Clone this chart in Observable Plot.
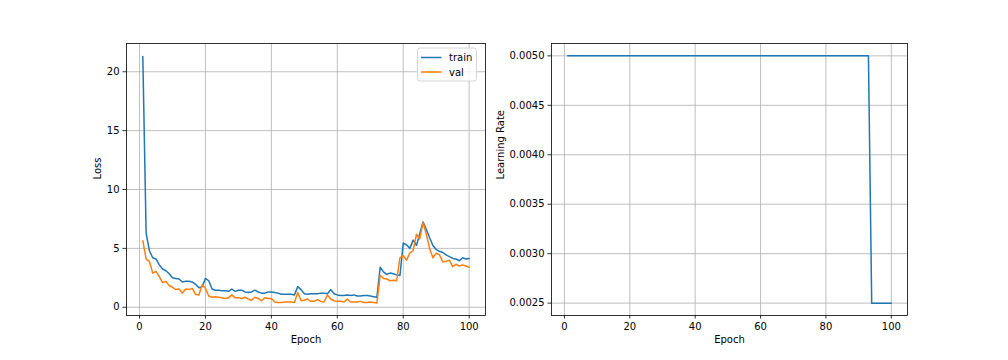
<!DOCTYPE html>
<html>
<head>
<meta charset="utf-8">
<script src="https://cdn.jsdelivr.net/npm/d3@7"></script>
<script src="https://cdn.jsdelivr.net/npm/@observablehq/plot@0.6"></script>
<style>
  html, body { margin: 0; padding: 0; background: white; }
  #wrap { position: relative; width: 1008px; height: 360px; background: white; }
  #wrap svg { position: absolute; top: 0; }
</style>
</head>
<body>
<div id="wrap"></div>
<script>
const epochs = d3.range(1, 101);
const trainLoss = [
  21.3, 6.3, 4.8, 4.2, 4.1, 3.6, 3.25, 3.1, 2.85, 2.5,
  2.45, 2.4, 2.15, 2.2, 2.2, 2.15, 1.95, 1.65, 1.75, 2.45,
  2.25, 1.55, 1.45, 1.45, 1.4, 1.4, 1.35, 1.55, 1.35, 1.45,
  1.45, 1.3, 1.25, 1.3, 1.45, 1.3, 1.2, 1.2, 1.3, 1.3,
  1.25, 1.2, 1.1, 1.1, 1.1, 1.1, 1.05, 1.75, 1.5, 1.15,
  1.1, 1.15, 1.15, 1.15, 1.2, 1.2, 1.15, 1.5, 1.15, 1.05,
  1.0, 1.0, 1.05, 1.0, 1.05, 0.95, 0.95, 1.0, 1.0, 0.95,
  0.9, 0.85, 3.4, 3.0, 2.8, 2.9, 2.85, 2.75, 2.7, 5.45,
  5.3, 5.0, 5.7, 5.25, 6.25, 7.25, 6.6, 5.9, 5.25, 4.9,
  4.75, 4.65, 4.45, 4.3, 4.15, 4.1, 3.95, 4.2, 4.1, 4.15
];
const valLoss = [
  5.65, 4.1, 3.9, 2.9, 3.05, 2.6, 2.1, 2.2, 1.85, 1.7,
  1.5, 1.55, 1.2, 1.55, 1.5, 1.6, 1.1, 1.05, 1.9, 1.6,
  0.95, 0.85, 0.9, 0.85, 0.8, 0.75, 0.8, 1.05, 0.8, 0.8,
  0.75, 0.85, 0.7, 0.6, 0.85, 0.75, 0.55, 0.8, 0.75, 0.75,
  0.45, 0.4, 0.4, 0.45, 0.45, 0.45, 0.4, 1.25, 0.55, 0.6,
  0.7, 0.5, 0.5, 0.65, 0.5, 0.45, 1.05, 0.7, 0.55, 0.5,
  0.5, 0.45, 0.7, 0.45, 0.45, 0.45, 0.5, 0.4, 0.4, 0.45,
  0.4, 0.35, 2.7, 2.45, 2.4, 2.25, 2.3, 2.25, 4.2, 4.4,
  4.0, 4.6, 4.8, 6.2, 5.8, 7.2, 6.2, 5.0, 4.2, 4.6,
  4.45, 3.85, 3.9, 4.0, 3.45, 3.65, 3.5, 3.6, 3.5, 3.4
];
const learningRate = [
  0.005, 0.005, 0.005, 0.005, 0.005, 0.005, 0.005, 0.005, 0.005, 0.005,
  0.005, 0.005, 0.005, 0.005, 0.005, 0.005, 0.005, 0.005, 0.005, 0.005,
  0.005, 0.005, 0.005, 0.005, 0.005, 0.005, 0.005, 0.005, 0.005, 0.005,
  0.005, 0.005, 0.005, 0.005, 0.005, 0.005, 0.005, 0.005, 0.005, 0.005,
  0.005, 0.005, 0.005, 0.005, 0.005, 0.005, 0.005, 0.005, 0.005, 0.005,
  0.005, 0.005, 0.005, 0.005, 0.005, 0.005, 0.005, 0.005, 0.005, 0.005,
  0.005, 0.005, 0.005, 0.005, 0.005, 0.005, 0.005, 0.005, 0.005, 0.005,
  0.005, 0.005, 0.005, 0.005, 0.005, 0.005, 0.005, 0.005, 0.005, 0.005,
  0.005, 0.005, 0.005, 0.005, 0.005, 0.005, 0.005, 0.005, 0.005, 0.005,
  0.005, 0.005, 0.005, 0.0025, 0.0025, 0.0025, 0.0025, 0.0025, 0.0025, 0.0025
];
const xTicks = [0, 20, 40, 60, 80, 100];
const lossTicks = [0, 5, 10, 15, 20];
const lrTicks = [0.0025, 0.0030, 0.0035, 0.0040, 0.0045, 0.0050];
const seriesNames = ["train", "val"];
const seriesColors = ["#1f77b4", "#ff7f0e"];

const rows = epochs.map((e, i) => ({epoch: e, train: trainLoss[i], val: valLoss[i], lr: learningRate[i]}));

const font = {fontFamily: "'DejaVu Sans', sans-serif", fontSize: "10px", color: "black", background: "white", overflow: "visible"};
const gridStyle = {stroke: "#b0b0b0", strokeOpacity: 1, strokeWidth: 0.8};
const xDomain = [-3.95, 104.95];

const left = Plot.plot({
  width: 490, height: 360,
  marginLeft: 126, marginRight: 5, marginTop: 43, marginBottom: 45,
  style: font,
  x: {domain: xDomain},
  y: {domain: [-0.7, 22.4]},
  marks: [
    Plot.gridX(xTicks, gridStyle),
    Plot.gridY(lossTicks, gridStyle),
    Plot.line(rows, {x: "epoch", y: "train", stroke: seriesColors[0], strokeWidth: 1.5}),
    Plot.line(rows, {x: "epoch", y: "val", stroke: seriesColors[1], strokeWidth: 1.5}),
    Plot.frame({stroke: "black", strokeWidth: 0.8}),
    Plot.axisX({ticks: xTicks, tickSize: 3.5, tickPadding: 3.5, strokeWidth: 0.8, label: null, fontSize: 10}),
    Plot.axisY({ticks: lossTicks, tickSize: 3.5, tickPadding: 3.5, strokeWidth: 0.8, label: null, fontSize: 10}),
    Plot.text(["Epoch"], {text: d => d, frameAnchor: "bottom", dy: 27, fontSize: 10, fill: "black"}),
    Plot.text(["Loss"], {text: d => d, frameAnchor: "left", dx: -29, rotate: -90, fontSize: 10, fill: "black"})
  ]
});
left.style.left = "0px";

const right = Plot.plot({
  width: 518, height: 360,
  marginLeft: 61, marginRight: 101, marginTop: 43, marginBottom: 45,
  style: font,
  x: {domain: xDomain},
  y: {domain: [0.002375, 0.005125]},
  marks: [
    Plot.gridX(xTicks, gridStyle),
    Plot.gridY(lrTicks, gridStyle),
    Plot.line(rows, {x: "epoch", y: "lr", stroke: seriesColors[0], strokeWidth: 1.5}),
    Plot.frame({stroke: "black", strokeWidth: 0.8}),
    Plot.axisX({ticks: xTicks, tickSize: 3.5, tickPadding: 3.5, strokeWidth: 0.8, label: null, fontSize: 10}),
    Plot.axisY({ticks: lrTicks, tickFormat: d3.format(".4f"), tickSize: 3.5, tickPadding: 3.5, strokeWidth: 0.8, label: null, fontSize: 10}),
    Plot.text(["Epoch"], {text: d => d, frameAnchor: "bottom", dy: 27, fontSize: 10, fill: "black"}),
    Plot.text(["Learning Rate"], {text: d => d, frameAnchor: "left", dx: -51, rotate: -90, fontSize: 10, fill: "black"})
  ]
});
right.style.left = "490px";

const wrap = document.getElementById("wrap");
wrap.appendChild(left);
wrap.appendChild(right);

// Legend (upper right of loss panel)
const lg = d3.select(left).append("g")
  .attr("font-family", "'DejaVu Sans', sans-serif").attr("font-size", 10).attr("text-anchor", "start");
lg.append("rect").attr("x", 417.5).attr("y", 48).attr("width", 59).attr("height", 33).attr("rx", 2.5)
  .attr("fill", "white").attr("fill-opacity", 0.8).attr("stroke", "#cccccc").attr("stroke-width", 0.8);
seriesNames.forEach((name, i) => {
  const y = 57.5 + i * 14.5;
  lg.append("line").attr("x1", 421).attr("x2", 441.5).attr("y1", y).attr("y2", y)
    .attr("stroke", seriesColors[i]).attr("stroke-width", 1.5);
  lg.append("text").attr("x", 449).attr("y", y).attr("dy", "0.35em")
    .attr("text-anchor", "start").attr("fill", "black").text(name);
});
</script>
</body>
</html>
